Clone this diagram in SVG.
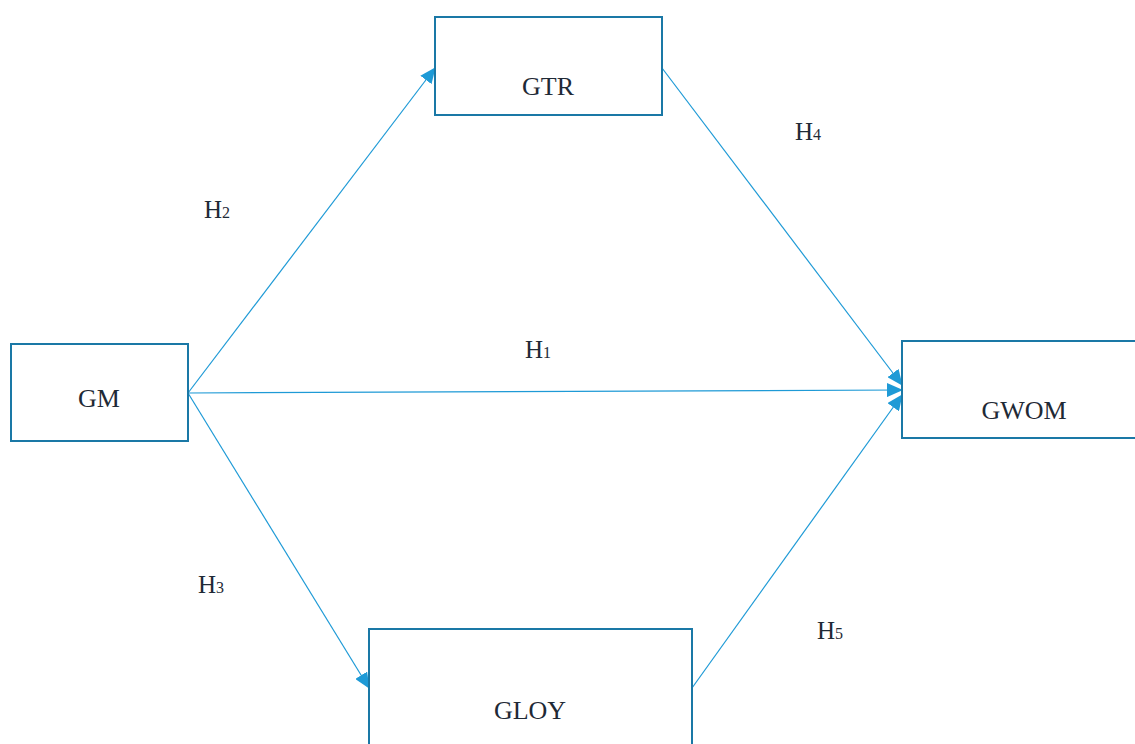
<svg xmlns="http://www.w3.org/2000/svg" width="1135" height="744" viewBox="0 0 1135 744">
<style>
.box{fill:#fff;stroke:#1a78a6;stroke-width:2}
.lbl{font-family:"Liberation Serif","DejaVu Serif",serif;font-size:26px;fill:#1f2a36;text-anchor:middle}
.h{font-family:"Liberation Serif","DejaVu Serif",serif;font-size:25px;fill:#1f2a36}
.sub{font-size:16px}
.con{stroke:#1e9ad6;stroke-width:1.2;fill:none;marker-end:url(#arr)}
</style>
<defs>
<marker id="arr" markerUnits="userSpaceOnUse" markerWidth="16" markerHeight="14" refX="15" refY="7" orient="auto">
<path d="M0,0 L16,7 L0,14 Z" fill="#1e9ad6"/>
</marker>
</defs>
<rect width="1135" height="744" fill="#fff"/>
<g id="connectors">
<line class="con" x1="188" y1="393" x2="435" y2="68"/>
<line class="con" x1="188" y1="393" x2="902" y2="390"/>
<line class="con" x1="188" y1="393" x2="369" y2="688"/>
<line class="con" x1="662" y1="68" x2="902" y2="385"/>
<line class="con" x1="692" y1="688" x2="902" y2="395"/>
</g>
<g id="GTR"><rect class="box" x="435" y="17" width="227" height="98"/><text class="lbl" x="548" y="95">GTR</text></g>
<g id="GM"><rect class="box" x="11" y="344" width="177" height="97"/><text class="lbl" x="99" y="407">GM</text></g>
<g id="GWOM"><rect class="box" x="902" y="341" width="240" height="97"/><text class="lbl" x="1024" y="419">GWOM</text></g>
<g id="GLOY"><rect class="box" x="369" y="629" width="323" height="130"/><text class="lbl" x="530" y="719">GLOY</text></g>
<g id="labels">
<text class="h" x="204" y="218">H<tspan class="sub">2</tspan></text>
<text class="h" x="525" y="358">H<tspan class="sub">1</tspan></text>
<text class="h" x="795" y="140">H<tspan class="sub">4</tspan></text>
<text class="h" x="198" y="593">H<tspan class="sub">3</tspan></text>
<text class="h" x="817" y="639">H<tspan class="sub">5</tspan></text>
</g>
</svg>
